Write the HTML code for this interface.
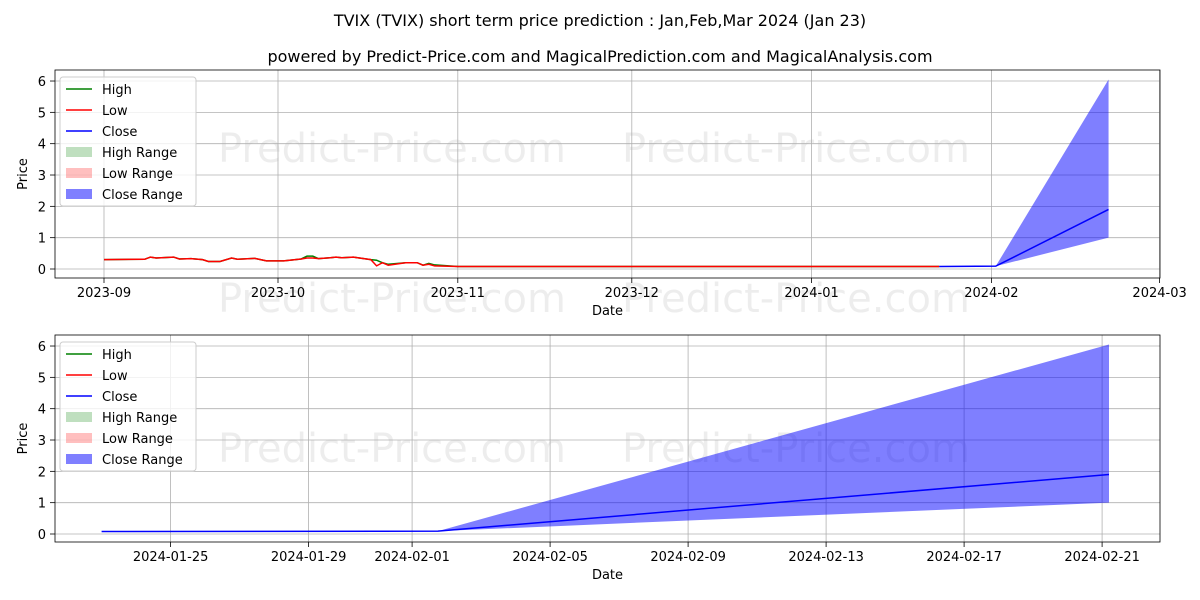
<!DOCTYPE html>
<html><head><meta charset="utf-8"><style>
body{margin:0;background:#fff}
svg{display:block;font-family:"DejaVu Sans","Liberation Sans",sans-serif}
</style></head><body>
<svg id="c" width="1200" height="600" viewBox="0 0 1200 600"></svg>
<script>
// day offsets from 2023-09-01
const histDays=[0,7,8,9,12,13,15,17,18,20,22,23,26,28,31,34,35,36,37,39,40,41,43,46,47,48,49,52,54,55,56,57,61,144];
const lowVals=[0.30,0.31,0.38,0.35,0.38,0.32,0.33,0.30,0.24,0.24,0.35,0.31,0.34,0.26,0.26,0.32,0.35,0.35,0.33,0.36,0.38,0.36,0.38,0.30,0.10,0.20,0.12,0.20,0.20,0.12,0.15,0.10,0.08,0.08];
const highVals=[0.30,0.31,0.38,0.35,0.38,0.32,0.33,0.30,0.24,0.24,0.35,0.31,0.34,0.26,0.26,0.32,0.41,0.41,0.33,0.36,0.38,0.36,0.38,0.30,0.28,0.20,0.15,0.20,0.20,0.12,0.18,0.13,0.08,0.08];
const closeDays=[144,153.75,173.2];
const closeVals=[0.08,0.09,1.9];
const closeUpper=[0.08,0.09,6.05];
const closeLower=[0.08,0.09,1.0];
const yTicks=[0,1,2,3,4,5,6];
const topTickDays=[0,30,61,91,122,153,182];
const topTickLabels=["2023-09","2023-10","2023-11","2023-12","2024-01","2024-02","2024-03"];
const botTickDays=[146,150,153,157,161,165,169,173];
const botTickLabels=["2024-01-25","2024-01-29","2024-02-01","2024-02-05","2024-02-09","2024-02-13","2024-02-17","2024-02-21"];

const svg=document.getElementById('c');const NS='http://www.w3.org/2000/svg';
function mk(t,a,p){const e=document.createElementNS(NS,t);for(const k in a)e.setAttribute(k,a[k]);(p||svg).appendChild(e);return e;}
function txt(s,a,p){const e=mk('text',a,p);e.textContent=s;return e;}
const defs=mk('defs',{});

const t1=txt('TVIX (TVIX) short term price prediction : Jan,Feb,Mar 2024 (Jan 23)',{x:600,y:26,'text-anchor':'middle','font-size':16});

const t2=txt('powered by Predict-Price.com and MagicalPrediction.com and MagicalAnalysis.com',{x:600,y:62,'text-anchor':'middle','font-size':16});


let clipN=0;
function panel(name,L,R,T,B,x,y,tickDays,tickLabels,wm,showHist){
  const g=mk('g',{});
  const cid='clip'+(clipN++);
  const cp=mk('clipPath',{id:cid},defs);mk('rect',{x:L,y:T,width:R-L,height:B-T},cp);
  wm.forEach(w=>{const e=txt('Predict-Price.com',{x:w[0],y:w[1],'font-size':40,fill:'#000','fill-opacity':0.07},g);});
  tickDays.forEach((d,i)=>{const X=x(d);
    const l=mk('line',{x1:X,x2:X,y1:T,y2:B,stroke:'#b0b0b0','stroke-width':0.8},g);
    mk('line',{x1:X,x2:X,y1:B,y2:B+5,stroke:'#000','stroke-width':0.8},g);
    const e=txt(tickLabels[i],{x:X,y:B+19,'text-anchor':'middle','font-size':13},g);});
  yTicks.forEach(v=>{const Y=y(v);
    const l=mk('line',{x1:L,x2:R,y1:Y,y2:Y,stroke:'#b0b0b0','stroke-width':0.8},g);
    mk('line',{x1:L-5,x2:L,y1:Y,y2:Y,stroke:'#000','stroke-width':0.8},g);
    const e=txt(String(v),{x:L-9,y:Y+5,'text-anchor':'end','font-size':13},g);});
  const pg=mk('g',{'clip-path':`url(#${cid})`},g);
  let d='';closeDays.forEach((dd,i)=>{d+=(i?'L':'M')+x(dd)+','+y(closeUpper[i]);});
  for(let i=closeDays.length-1;i>=0;i--)d+='L'+x(closeDays[i])+','+y(closeLower[i]);
  const a=mk('path',{d:d+'Z',fill:'#0000ff','fill-opacity':0.5,stroke:'none'},pg);
  function line(xs,ys,c,n){const pts=xs.map((dd,i)=>x(dd)+','+y(ys[i])).join(' ');const p=mk('polyline',{points:pts,fill:'none',stroke:c,'stroke-width':1.5},pg);}
  if(showHist){
    line(histDays,highVals,'#008000','high-line');
    line(histDays,lowVals,'#ff0000','low-line');
  }
  line(closeDays,closeVals,'#0000ff','close-line');
  mk('rect',{x:L,y:T,width:R-L,height:B-T,fill:'none',stroke:'#000','stroke-width':0.8},g);
  const xl=txt('Date',{x:(L+R)/2,y:B+37,'text-anchor':'middle','font-size':13},g);
  const yl=txt('Price',{x:0,y:0,'text-anchor':'middle','font-size':13,transform:`translate(27,${(T+B)/2}) rotate(-90)`},g);
  const lg=mk('g',{},g);
  mk('rect',{x:L+5,y:T+7,width:136,height:129,rx:3,fill:'#fff','fill-opacity':0.8,stroke:'#ccc'},lg);
  const items=[['High','#008000','l'],['Low','#ff0000','l'],['Close','#0000ff','l'],['High Range','#008000','r'],['Low Range','#ff0000','r'],['Close Range','#0000ff','r']];
  items.forEach((it,i)=>{const Y=T+19+i*21;
    if(it[2]=='l')mk('line',{x1:L+11,x2:L+37,y1:Y,y2:Y,stroke:it[1],'stroke-width':1.5},lg);
    else mk('rect',{x:L+11,y:Y-5,width:26,height:10,fill:it[1],'fill-opacity':it[0]=='Close Range'?0.5:0.25},lg);
    const e=txt(it[0],{x:L+47,y:Y+5,'font-size':13},lg);});
}
panel('top-panel',55,1160,70,278,d=>104+d*5.80,v=>269-v*31.33,topTickDays,topTickLabels,[[218,162],[622,162],[218,312],[622,312]],true);
panel('bottom-panel',55,1160,335,542,d=>101.6+(d-144)*34.5,v=>534-v*31.33,botTickDays,botTickLabels,[[218,462],[622,462]],false);
</script>
</body></html>
